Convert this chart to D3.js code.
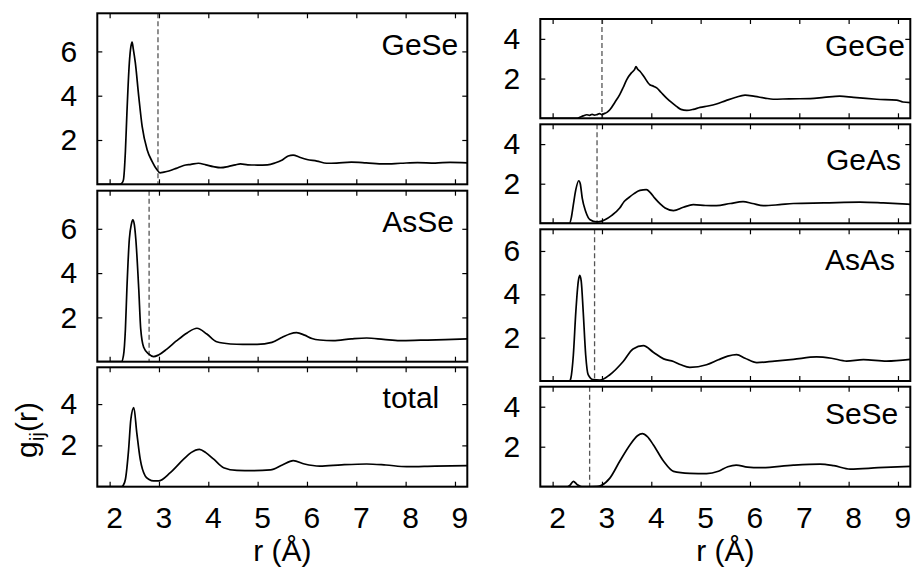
<!DOCTYPE html>
<html>
<head>
<meta charset="utf-8">
<script src="https://cdn.jsdelivr.net/npm/d3@7"></script>
<style>
  html, body { margin: 0; padding: 0; background: #fff; }
  svg { display: block; }
  text { font-family: "Liberation Sans", Arial, Helvetica, sans-serif; fill: #000; }
</style>
</head>
<body>
<svg id="chart" width="912" height="570"></svg>
<script>
// ---------------- data ----------------
const xTicks = [2, 3, 4, 5, 6, 7, 8, 9];
const panelNames = ["GeSe", "AsSe", "total", "GeGe", "GeAs", "AsAs", "SeSe"];
const yTicksGeSe = [2, 4, 6];
const yTicksAsSe = [2, 4, 6];
const yTicksTotal = [2, 4];
const yTicksGeGe = [2, 4];
const yTicksGeAs = [2, 4];
const yTicksAsAs = [2, 4, 6];
const yTicksSeSe = [2, 4];
const yMax = { GeSe: 7.72, AsSe: 7.72, total: 5.78, GeGe: 5.0, GeAs: 5.0, AsAs: 7.0, SeSe: 5.0 };
const cutoff = { GeSe: 2.98, AsSe: 2.80, total: null, GeGe: 3.0, GeAs: 2.90, AsAs: 2.85, SeSe: 2.75 };

const gGeSe = [[1.75,0],[2.20,0],[2.25,0.05],[2.28,0.2],[2.32,1.5],[2.35,3.2],[2.40,5.5],[2.43,6.2],[2.455,6.42],[2.48,6.1],[2.52,5.5],[2.59,3.97],[2.66,2.6],[2.76,1.56],[2.86,1.04],[2.96,0.66],[3.02,0.52],[3.1,0.55],[3.2,0.6],[3.35,0.72],[3.5,0.85],[3.65,0.9],[3.8,0.95],[3.95,0.88],[4.1,0.8],[4.25,0.75],[4.4,0.8],[4.55,0.88],[4.65,0.92],[4.8,0.88],[5.0,0.87],[5.2,0.88],[5.35,0.96],[5.5,1.1],[5.62,1.28],[5.72,1.32],[5.85,1.22],[6.0,1.12],[6.2,1.05],[6.4,0.95],[6.6,0.96],[6.9,1.0],[7.2,0.97],[7.56,0.92],[7.9,0.95],[8.24,0.98],[8.6,0.96],[8.9,0.99],[9.25,0.97]];
const gAsSe = [[1.75,0],[2.24,0],[2.28,0.27],[2.32,1.48],[2.35,3.29],[2.40,5.55],[2.44,6.2],[2.47,6.4],[2.50,6.2],[2.53,5.55],[2.59,3.29],[2.63,1.48],[2.69,0.65],[2.79,0.35],[2.89,0.23],[2.99,0.3],[3.16,0.57],[3.36,0.95],[3.57,1.3],[3.77,1.51],[3.97,1.25],[4.17,0.9],[4.45,0.8],[4.7,0.78],[4.99,0.78],[5.29,0.87],[5.5,1.1],[5.65,1.25],[5.79,1.31],[5.95,1.2],[6.1,1.05],[6.26,0.98],[6.53,0.95],[6.9,1.03],[7.21,1.07],[7.55,1.01],[7.88,0.95],[8.3,0.97],[8.8,1.0],[9.25,1.03]];
const gTotal = [[1.75,0],[2.24,0],[2.28,0.08],[2.32,0.36],[2.385,1.81],[2.43,3.26],[2.49,3.83],[2.55,2.62],[2.62,1.33],[2.72,0.52],[2.8,0.35],[2.89,0.28],[2.99,0.28],[3.23,0.68],[3.5,1.33],[3.65,1.65],[3.82,1.81],[3.95,1.65],[4.11,1.33],[4.31,0.92],[4.58,0.79],[4.9,0.78],[5.26,0.81],[5.5,1.05],[5.72,1.26],[5.95,1.1],[6.26,1.0],[6.7,1.06],[7.21,1.1],[7.6,1.05],[8.02,0.97],[8.6,1.0],[9.25,1.02]];
const gGeGe = [[1.75,0],[2.49,0],[2.55,0.05],[2.62,0.12],[2.69,0.18],[2.75,0.15],[2.8,0.2],[2.85,0.16],[2.89,0.18],[2.95,0.24],[3.0,0.18],[3.03,0.22],[3.1,0.3],[3.16,0.43],[3.26,0.8],[3.36,1.19],[3.43,1.55],[3.5,1.94],[3.6,2.3],[3.66,2.45],[3.69,2.6],[3.72,2.48],[3.77,2.37],[3.85,2.1],[3.97,1.69],[4.04,1.62],[4.11,1.53],[4.2,1.3],[4.31,1.02],[4.41,0.8],[4.51,0.6],[4.6,0.45],[4.72,0.4],[4.85,0.45],[4.99,0.55],[5.15,0.62],[5.32,0.72],[5.5,0.88],[5.7,1.05],[5.9,1.17],[6.1,1.1],[6.3,1.02],[6.47,0.96],[6.8,0.98],[7.22,0.99],[7.5,1.05],[7.82,1.12],[8.1,1.05],[8.57,0.96],[8.97,0.92],[9.1,0.82],[9.25,0.79]];
const gGeAs = [[1.75,0],[2.34,0],[2.38,0.3],[2.42,0.94],[2.47,1.7],[2.53,2.15],[2.56,2.0],[2.6,1.27],[2.67,0.6],[2.76,0.18],[2.89,0.07],[2.95,0.08],[3.06,0.18],[3.2,0.4],[3.36,0.77],[3.45,1.1],[3.53,1.27],[3.65,1.5],[3.77,1.66],[3.9,1.7],[3.98,1.55],[4.07,1.27],[4.18,0.98],[4.28,0.77],[4.45,0.64],[4.65,0.81],[4.85,0.94],[5.1,0.9],[5.32,0.89],[5.6,1.0],[5.86,1.09],[6.05,1.0],[6.27,0.89],[6.6,0.94],[6.88,1.0],[7.5,1.03],[8.23,1.07],[8.7,1.03],[9.25,0.96]];
const gAsAs = [[1.75,0],[2.34,0],[2.37,0.14],[2.42,1.2],[2.47,3.19],[2.52,4.6],[2.55,4.87],[2.58,4.6],[2.62,3.19],[2.67,1.2],[2.72,0.29],[2.82,0.06],[2.96,0.04],[3.16,0.29],[3.43,0.9],[3.63,1.48],[3.84,1.63],[4.04,1.33],[4.25,1.02],[4.45,0.9],[4.6,0.75],[4.78,0.63],[5.12,0.75],[5.36,0.98],[5.55,1.15],[5.73,1.22],[5.9,1.05],[6.14,0.85],[6.5,0.92],[6.88,1.0],[7.35,1.11],[7.65,1.05],[7.96,0.92],[8.3,0.99],[8.77,0.92],[9.25,1.0]];
const gSeSe = [[1.75,0],[2.3,0],[2.35,0.07],[2.42,0.27],[2.5,0.1],[2.59,0],[2.9,0.02],[2.99,0.07],[3.16,0.43],[3.36,1.27],[3.57,2.1],[3.72,2.55],[3.82,2.65],[3.92,2.5],[4.04,2.1],[4.25,1.27],[4.45,0.77],[4.78,0.67],[5.12,0.65],[5.36,0.77],[5.55,1.0],[5.72,1.08],[5.95,0.98],[6.2,0.95],[6.88,1.08],[7.42,1.13],[7.7,1.05],[8.03,0.88],[8.6,0.95],[9.25,1.02]];

const xLabel = "r (Å)";
// ---------------- layout ----------------
const xDomain = [1.75, 9.25];
const cols = [{ x0: 97.3, x1: 467.3 }, { x0: 540.3, x1: 910.3 }];
const layout = [
  { name: "GeSe", data: gGeSe, ticks: yTicksGeSe, col: 0, top: 13.3, bottom: 184.3, lx: 9, ly: 41.7, last: false },
  { name: "AsSe", data: gAsSe, ticks: yTicksAsSe, col: 0, top: 190.7, bottom: 361.7, lx: 13.3, ly: 41, last: false },
  { name: "total", data: gTotal, ticks: yTicksTotal, col: 0, top: 367.3, bottom: 486.7, lx: 28, ly: 40.4, last: true },
  { name: "GeGe", data: gGeGe, ticks: yTicksGeGe, col: 1, top: 19, bottom: 118.3, lx: 5.3, ly: 37, last: false },
  { name: "GeAs", data: gGeAs, ticks: yTicksGeAs, col: 1, top: 124.3, bottom: 223.3, lx: 9.3, ly: 45.7, last: false },
  { name: "AsAs", data: gAsAs, ticks: yTicksAsAs, col: 1, top: 229.3, bottom: 381, lx: 15.3, ly: 40.7, last: false },
  { name: "SeSe", data: gSeSe, ticks: yTicksSeSe, col: 1, top: 386.7, bottom: 486.7, lx: 12, ly: 37.6, last: true }
];

const FS = 30;
const svg = d3.select("#chart");

layout.forEach(p => {
  const c = cols[p.col];
  const x = d3.scaleLinear().domain(xDomain).range([c.x0, c.x1]);
  const y = d3.scaleLinear().domain([0, yMax[p.name]]).range([p.bottom, p.top]);
  const g = svg.append("g");

  const clipId = "clip-" + p.name;
  svg.append("clipPath").attr("id", clipId).append("rect")
    .attr("x", c.x0).attr("y", p.top).attr("width", c.x1 - c.x0).attr("height", p.bottom - p.top);

  const styleAxis = sel => {
    sel.select(".domain").remove();
    sel.selectAll(".tick line").attr("stroke", "#000").attr("stroke-width", 1.2);
    sel.selectAll("text").style("font-size", FS + "px").attr("fill", "#000")
      .style("font-family", '"Liberation Sans", Arial, Helvetica, sans-serif');
  };
  g.append("g").attr("transform", `translate(0,${p.bottom})`)
    .call(d3.axisBottom(x).tickValues(xTicks).tickSize(-5).tickPadding(20)
      .tickFormat(p.last ? d3.format("d") : () => ""))
    .call(styleAxis)
    .call(s => s.selectAll("text").attr("dx", 4.5));
  g.append("g").attr("transform", `translate(0,${p.top})`)
    .call(d3.axisTop(x).tickValues(xTicks).tickSize(-5).tickFormat(() => ""))
    .call(styleAxis);
  g.append("g").attr("transform", `translate(${c.x0},0)`)
    .call(d3.axisLeft(y).tickValues(p.ticks).tickSize(-5).tickPadding(20).tickFormat(d3.format("d")))
    .call(styleAxis);
  g.append("g").attr("transform", `translate(${c.x1},0)`)
    .call(d3.axisRight(y).tickValues(p.ticks).tickSize(-5).tickFormat(() => ""))
    .call(styleAxis);

  if (cutoff[p.name] != null) {
    g.append("line")
      .attr("x1", x(cutoff[p.name])).attr("x2", x(cutoff[p.name]))
      .attr("y1", y(yMax[p.name])).attr("y2", y(0))
      .attr("stroke", "#555").attr("stroke-width", 1.3)
      .attr("stroke-dasharray", "5,3");
  }

  const line = d3.line().x(d => x(d[0])).y(d => y(d[1])).curve(d3.curveMonotoneX);
  g.append("path").datum(p.data)
    .attr("clip-path", `url(#${clipId})`)
    .attr("d", line)
    .attr("fill", "none").attr("stroke", "#000").attr("stroke-width", 1.7)
    .attr("stroke-linejoin", "round");

  g.append("rect")
    .attr("x", c.x0).attr("y", p.top).attr("width", c.x1 - c.x0).attr("height", p.bottom - p.top)
    .attr("fill", "none").attr("stroke", "#000").attr("stroke-width", 2);

  g.append("text")
    .attr("x", c.x1 - p.lx).attr("y", p.top + p.ly)
    .attr("text-anchor", "end")
    .style("font-size", FS + "px")
    .text(p.name);

  if (p.last) {
    svg.append("text")
      .attr("x", (c.x0 + c.x1) / 2).attr("y", 561)
      .attr("text-anchor", "middle")
      .style("font-size", FS + "px")
      .text(xLabel);
  }
});

const yl = svg.append("text")
  .attr("transform", "translate(37,430) rotate(-90)")
  .attr("text-anchor", "middle")
  .style("font-size", FS + "px");
yl.append("tspan").text("g");
yl.append("tspan").attr("dy", 7).style("font-size", "21px").text("ij");
yl.append("tspan").attr("dy", -7).text("(r)");
</script>
</body>
</html>
